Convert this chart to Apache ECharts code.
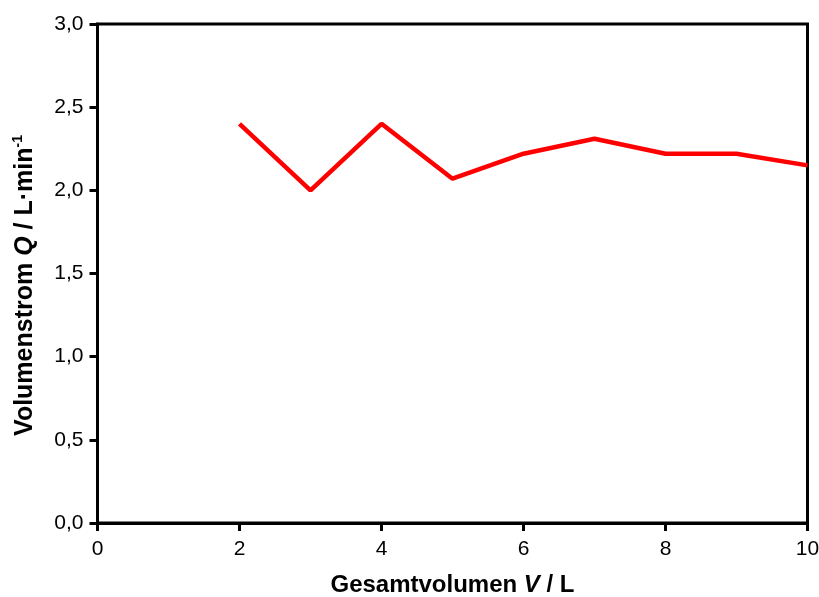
<!DOCTYPE html>
<html><head><meta charset="utf-8">
<script src="https://cdn.jsdelivr.net/npm/echarts@6/dist/echarts.min.js"></script>
<style>html,body{margin:0;padding:0;background:#fff}#c{width:819px;height:597px}</style>
</head><body><div id="c"></div>
<script>
const volumes = [2, 3, 4, 5, 6, 7, 8, 9, 10];
const flows = [2.40, 2.00, 2.40, 2.07, 2.22, 2.31, 2.22, 2.22, 2.15];
const xTitle = ['Gesamtvolumen ', 'V', ' / L'];
const yTitle = ['Volumenstrom ', 'Q', ' / L·min', '-1'];

const chart = echarts.init(document.getElementById('c'));
const F = 'Liberation Sans, Arial, sans-serif';
const TS = 24;
const YS = 25;
chart.setOption({
  animation: false,
  grid: {left: 97.5, right: 11.5, top: 24, bottom: 74, outerBoundsMode: 'none', containLabel: false, show: true, borderColor: '#000', borderWidth: 3, backgroundColor: 'transparent'},
  xAxis: {
    type: 'value', min: 0, max: 10, interval: 2,
    name: '{b|' + xTitle[0] + '}{bi|' + xTitle[1] + '}{b|' + xTitle[2] + '}',
    nameLocation: 'middle', nameGap: 50,
    nameTextStyle: {rich: {b: {fontFamily: F, fontWeight: 'bold', fontSize: TS, color: '#000'}, bi: {fontFamily: F, fontWeight: 'bold', fontStyle: 'italic', fontSize: TS, color: '#000'}}},
    axisLine: {show: true, lineStyle: {color: '#000', width: 3}},
    axisTick: {show: true, inside: false, length: 8, lineStyle: {color: '#000', width: 3}},
    axisLabel: {fontFamily: F, fontSize: 21, color: '#000', margin: 16},
    splitLine: {show: false}
  },
  yAxis: {
    type: 'value', min: 0, max: 3, interval: 0.5,
    name: '{b|' + yTitle[0] + '}{bi|' + yTitle[1] + '}{b|' + yTitle[2] + '}{sup|' + yTitle[3] + '}',
    nameLocation: 'middle', nameGap: 60, nameRotate: 90,
    nameTextStyle: {padding: [0, 24, 0, 0], rich: {
      b: {fontFamily: F, fontWeight: 'bold', fontSize: YS, color: '#000', verticalAlign: 'bottom'},
      bi: {fontFamily: F, fontWeight: 'bold', fontStyle: 'italic', fontSize: YS, color: '#000', verticalAlign: 'bottom'},
      sup: {fontFamily: F, fontWeight: 'bold', fontSize: 14, color: '#000', verticalAlign: 'top', padding: [0, 0, 12, 0]}
    }},
    axisLine: {show: true, lineStyle: {color: '#000', width: 3}},
    axisTick: {show: true, inside: false, length: 8, lineStyle: {color: '#000', width: 3}},
    axisLabel: {fontFamily: F, fontSize: 21, color: '#000', margin: 14, formatter: v => v.toFixed(1).replace('.', ',')},
    splitLine: {show: false}
  },
  series: [{
    type: 'line', data: volumes.map((v, i) => [v, flows[i]]),
    showSymbol: false, symbol: 'none',
    lineStyle: {color: '#ff0000', width: 4.5}
  }]
});
</script></body></html>
